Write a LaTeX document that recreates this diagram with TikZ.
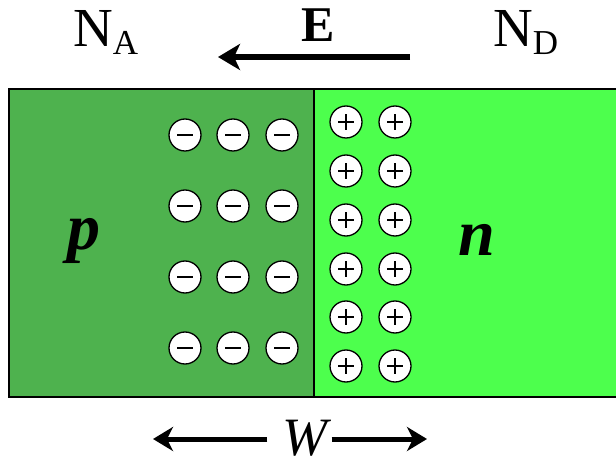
\documentclass[tikz,border=0pt]{standalone}
\usepackage{fontspec}
\setmainfont{Liberation Serif}
\usetikzlibrary{arrows.meta}
\definecolor{pgreen}{RGB}{78,178,78}
\definecolor{ngreen}{RGB}{77,255,77}
\begin{document}
\begin{tikzpicture}[x=1pt,y=-1pt,
  ion/.style={circle, draw=black, fill=white, minimum size=32pt, inner sep=0pt, line width=1.3pt},
  negion/.style={ion, path picture={\draw[line width=1.7pt] ([xshift=-8pt]path picture bounding box.center) -- ([xshift=8pt]path picture bounding box.center);}},
  posion/.style={ion, path picture={\draw[line width=1.5pt] ([xshift=-8pt]path picture bounding box.center) -- ([xshift=8pt]path picture bounding box.center) ([yshift=-8pt]path picture bounding box.center) -- ([yshift=8pt]path picture bounding box.center);}},
  bigarrow/.style={line width=6pt, -{Stealth[length=22pt,width=26pt,inset=6pt]}},
  warrow/.style={line width=5pt, -{Stealth[length=20pt,width=24pt,inset=6pt]}},
  lbl/.style={inner sep=0pt, anchor=base}
]
\useasboundingbox (0,0) rectangle (616,462);
% regions
\path[fill=pgreen] (9,89) rectangle (314,397);
\path[fill=ngreen] (314,89) rectangle (620,397);
\draw[line width=1.8pt] (620,89) -- (9,89) -- (9,397) -- (620,397);
\draw[line width=1.8pt] (314,89) -- (314,397);
% negative ions
\foreach \y [count=\j] in {135,206,277,348}{
  \foreach \x [count=\i] in {185,233,282}{
    \node[negion] (m\j\i) at (\x,\y) {};
  }
}
% positive ions
\foreach \y [count=\j] in {122,171,220,269,317,366}{
  \foreach \x [count=\i] in {346,395}{
    \node[posion] (p\j\i) at (\x,\y) {};
  }
}
% labels
\node[lbl, anchor=base west] (NA) at (73,47) {\fontsize{55}{60}\selectfont N\raisebox{-8pt}{\fontsize{35}{40}\selectfont A}};
\node[lbl, anchor=base west] (ND) at (493,47) {\fontsize{55}{60}\selectfont N\raisebox{-8pt}{\fontsize{35}{40}\selectfont D}};
\node[lbl] (E) at (318,42) {\fontsize{50}{55}\selectfont\bfseries E};
\node[lbl] (p) at (84,250) {\fontsize{66}{70}\selectfont\bfseries\itshape p};
\node[lbl] (n) at (477,256) {\fontsize{66}{70}\selectfont\bfseries\itshape n};
\node[lbl] (W) at (305,455) {\fontsize{54}{58}\selectfont\itshape\raisebox{0pt}[\height][0pt]{W}};
% field arrow
\coordinate (Es) at (410,57);
\coordinate (Et) at (218,57);
\draw[bigarrow] (Es) -- (Et);
% width arrows
\coordinate (wl) at (153,439);
\coordinate (wr) at (427,439);
\coordinate (wls) at ([xshift=-15pt]W.west);
\coordinate (wrs) at ([xshift=4pt]W.east);
\draw[warrow] (wls |- wl) -- (wl);
\draw[warrow] (wrs |- wr) -- (wr);
\end{tikzpicture}
\end{document}
